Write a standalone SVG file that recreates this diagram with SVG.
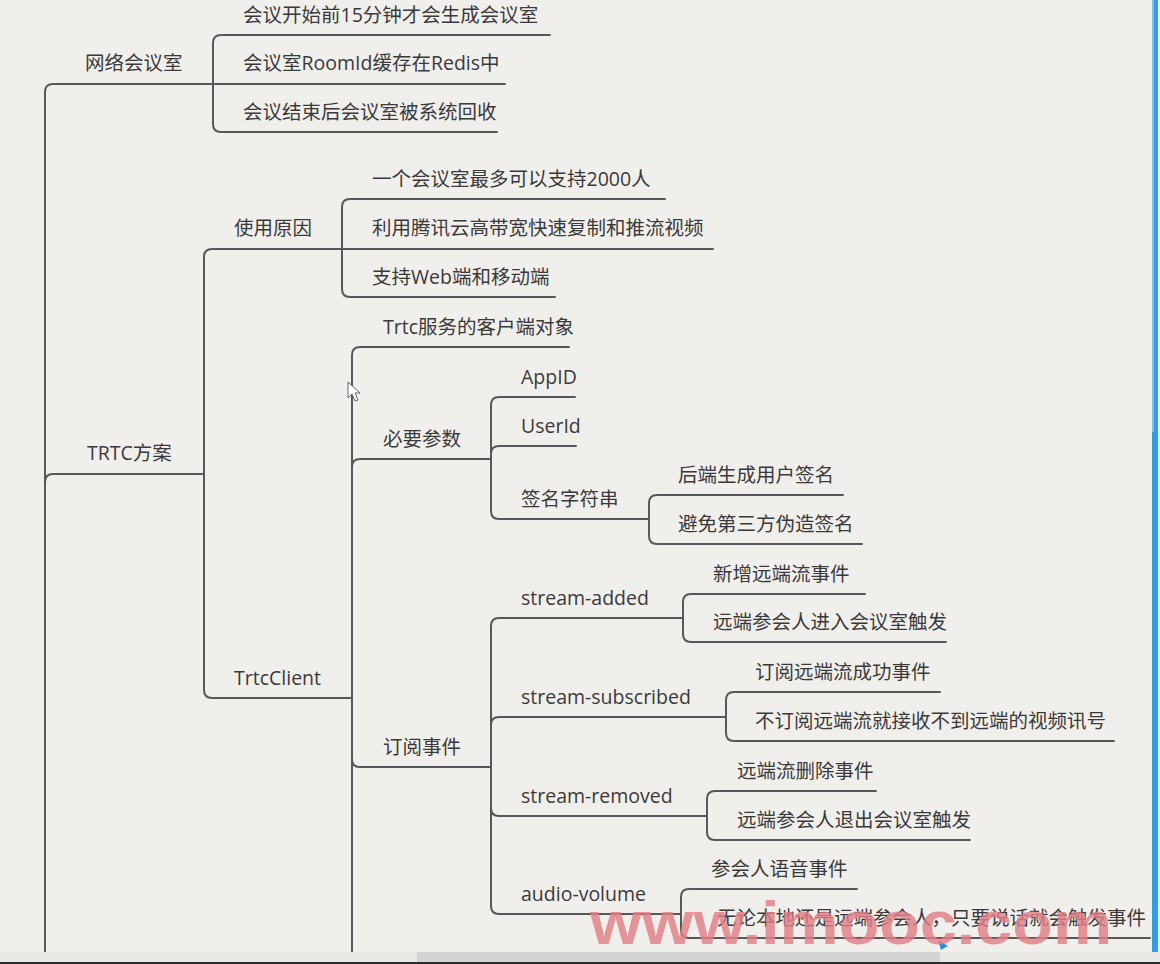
<svg xmlns="http://www.w3.org/2000/svg" width="1160" height="964" viewBox="0 0 1160 964">
<style>
.t{font-family:"Open Sans","Noto Sans CJK SC","Noto Sans",sans-serif;font-size:19.5px;fill:#3a3a3a}
.c{fill:none;stroke:#585858;stroke-width:2;stroke-linecap:round;stroke-linejoin:round}
.wm{font-family:"Liberation Sans","Noto Sans",sans-serif;font-weight:bold;font-size:62px;fill:#e07f86;fill-opacity:0.82}
</style>
<rect x="0" y="0" width="1160" height="964" fill="#f1efec"/>
<rect x="1152" y="0" width="6" height="952" fill="#2f9de2"/>
<rect x="1152" y="0" width="2" height="432" fill="#7cc0ec"/>
<g id="connectors">
<path class="c" d="M45,952 V92 Q45,84 53,84 H505"/>
<path class="c" d="M45,482 Q45,474 53,474 H204"/>
<path class="c" d="M550,35 H221 Q213,35 213,43 V124 Q213,132 221,132 H497"/>
<path class="c" d="M342,249 H212 Q204,249 204,257 V690 Q204,698 212,698 H352"/>
<path class="c" d="M665,199 H350 Q342,199 342,207 V289 Q342,297 350,297 H555"/>
<path class="c" d="M342,249 H713"/>
<path class="c" d="M569,347 H360 Q352,347 352,355 V952"/>
<path class="c" d="M352,467 Q352,459 360,459 H491"/>
<path class="c" d="M352,759 Q352,767 360,767 H491"/>
<path class="c" d="M575,397 H499 Q491,397 491,405 V511 Q491,519 499,519 H649"/>
<path class="c" d="M491,454 Q491,446 499,446 H576"/>
<path class="c" d="M843,495 H657 Q649,495 649,503 V536 Q649,544 657,544 H862"/>
<path class="c" d="M683,618 H499 Q491,618 491,626 V906 Q491,914 499,914 H681"/>
<path class="c" d="M491,725 Q491,717 499,717 H726"/>
<path class="c" d="M491,808 Q491,816 499,816 H707"/>
<path class="c" d="M865,594 H691 Q683,594 683,602 V634 Q683,642 691,642 H946"/>
<path class="c" d="M940,692 H734 Q726,692 726,700 V733 Q726,741 734,741 H1114"/>
<path class="c" d="M876,791 H715 Q707,791 707,799 V832 Q707,840 715,840 H970"/>
<path class="c" d="M857,889 H689 Q681,889 681,897 V930 Q681,938 689,938 H1150"/>
</g>
<g id="n-wangluo"><text class="t" x="85" y="70">网络会议室</text></g>
<g id="n-w1"><text class="t" x="243" y="22">会议开始前15分钟才会生成会议室</text></g>
<g id="n-w2"><text class="t" x="243" y="70">会议室RoomId缓存在Redis中</text></g>
<g id="n-w3"><text class="t" x="243" y="119">会议结束后会议室被系统回收</text></g>
<g id="n-trtc"><text class="t" x="87" y="460">TRTC方案</text></g>
<g id="n-reason"><text class="t" x="234" y="235">使用原因</text></g>
<g id="n-r1"><text class="t" x="372" y="186">一个会议室最多可以支持2000人</text></g>
<g id="n-r2"><text class="t" x="372" y="235">利用腾讯云高带宽快速复制和推流视频</text></g>
<g id="n-r3"><text class="t" x="372" y="284">支持Web端和移动端</text></g>
<g id="n-client"><text class="t" x="234" y="685">TrtcClient</text></g>
<g id="n-c1"><text class="t" x="383" y="334">Trtc服务的客户端对象</text></g>
<g id="n-params"><text class="t" x="383" y="446">必要参数</text></g>
<g id="n-appid"><text class="t" x="521" y="384">AppID</text></g>
<g id="n-userid"><text class="t" x="521" y="433">UserId</text></g>
<g id="n-sig"><text class="t" x="521" y="506">签名字符串</text></g>
<g id="n-sig1"><text class="t" x="678" y="482">后端生成用户签名</text></g>
<g id="n-sig2"><text class="t" x="678" y="531">避免第三方伪造签名</text></g>
<g id="n-events"><text class="t" x="383" y="754">订阅事件</text></g>
<g id="n-added"><text class="t" x="521" y="605">stream-added</text></g>
<g id="n-added1"><text class="t" x="713" y="581">新增远端流事件</text></g>
<g id="n-added2"><text class="t" x="713" y="629">远端参会人进入会议室触发</text></g>
<g id="n-sub"><text class="t" x="521" y="704">stream-subscribed</text></g>
<g id="n-sub1"><text class="t" x="755" y="679">订阅远端流成功事件</text></g>
<g id="n-sub2"><text class="t" x="755" y="728">不订阅远端流就接收不到远端的视频讯号</text></g>
<g id="n-rem"><text class="t" x="521" y="803">stream-removed</text></g>
<g id="n-rem1"><text class="t" x="737" y="778">远端流删除事件</text></g>
<g id="n-rem2"><text class="t" x="737" y="827">远端参会人退出会议室触发</text></g>
<g id="n-vol"><text class="t" x="521" y="901">audio-volume</text></g>
<g id="n-vol1"><text class="t" x="711" y="876">参会人语音事件</text></g>
<g id="n-vol2"><text class="t" x="717" y="925">无论本地还是远端参会人，只要说话就会触发事件</text></g>
<polygon points="348,382 348,398 352,394 355,401 358,400 355,393 360,393" fill="#ffffff" stroke="#666" stroke-width="1"/>
<polygon points="938,940 948,946 941,950" fill="#2a8fd6"/>
<text class="wm" x="590" y="944" textLength="522" lengthAdjust="spacingAndGlyphs">www.imooc.com</text>
<rect x="0" y="952" width="1160" height="10" fill="#e9e7e4"/>
<rect x="417" y="952" width="523" height="10" fill="#d4d4d4"/>
<rect x="0" y="962" width="1160" height="2" fill="#2b2b2b"/>
</svg>
